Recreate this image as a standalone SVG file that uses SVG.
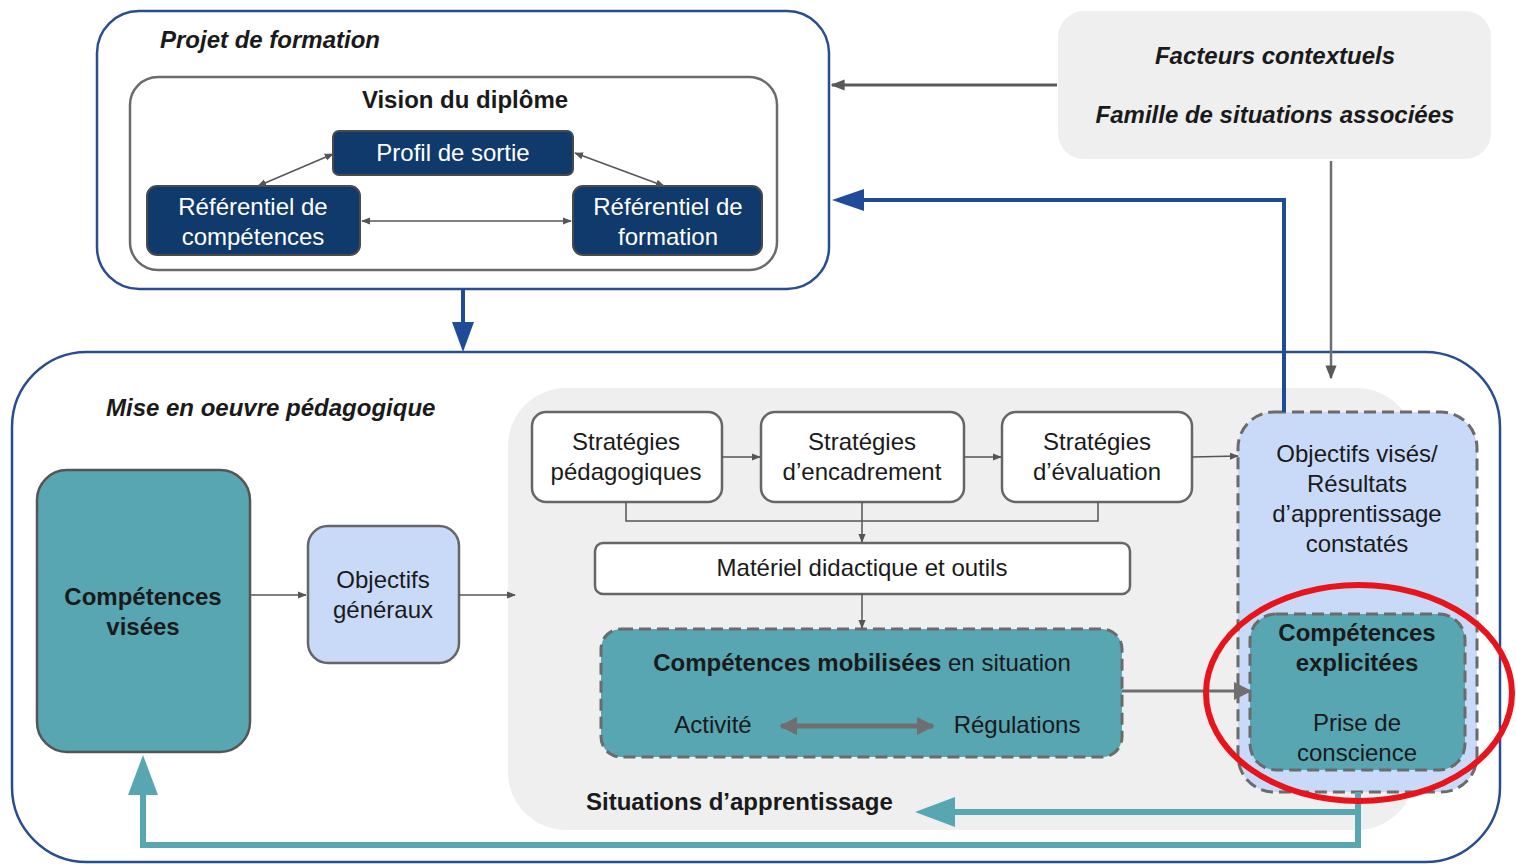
<svg xmlns="http://www.w3.org/2000/svg" width="1516" height="864" viewBox="0 0 1516 864">
<style>
text{font-family:"Liberation Sans",Arial,sans-serif;font-size:24px;fill:#1a1a1a}
.b{font-weight:bold}
.bi{font-weight:bold;font-style:italic}
.c{text-anchor:middle}
.w{fill:#ffffff}
.navy{fill:#103a6b;stroke:#4a4a4a;stroke-width:2}
.wbox{fill:#ffffff;stroke:#666666;stroke-width:2.5}
.teal{fill:#57a6b2}
.dash{stroke:#6b6b6b;stroke-width:3;stroke-dasharray:12 6}
.thin{stroke:#555555;stroke-width:1.5;fill:none}
</style>
<defs>
<marker id="sa" viewBox="0 0 10 10" refX="9" refY="5" markerWidth="9" markerHeight="9" markerUnits="userSpaceOnUse" orient="auto-start-reverse"><path d="M0,1 L10,5 L0,9 z" fill="#555555"/></marker>
<marker id="ga" viewBox="0 0 10 10" refX="9" refY="5" markerWidth="14" markerHeight="14" markerUnits="userSpaceOnUse" orient="auto-start-reverse"><path d="M0,1 L10,5 L0,9 z" fill="#595959"/></marker>
<marker id="gb" viewBox="0 0 10 10" refX="9" refY="5" markerWidth="18" markerHeight="18" markerUnits="userSpaceOnUse" orient="auto-start-reverse"><path d="M0,0 L10,5 L0,10 z" fill="#6f6f6f"/></marker>
</defs>

<g id="projet">
<rect x="97" y="11" width="732" height="278" rx="42" fill="#ffffff" stroke="#2a4d8f" stroke-width="2.5"/>
<text class="bi" x="160" y="48">Projet de formation</text>
</g>
<g id="vision">
<rect x="130" y="77" width="647" height="193" rx="28" fill="#ffffff" stroke="#6b6b6b" stroke-width="2.5"/>
<text class="b c" x="465" y="108">Vision du diplôme</text>
</g>
<g id="profil">
<rect class="navy" x="333" y="131" width="240" height="44" rx="6"/>
<text class="c w" x="453" y="161">Profil de sortie</text>
</g>
<g id="refcomp">
<rect class="navy" x="147" y="186" width="213" height="69" rx="10"/>
<text class="c w" x="253" y="215">Référentiel de</text>
<text class="c w" x="253" y="245">compétences</text>
</g>
<g id="refform">
<rect class="navy" x="573" y="186" width="189" height="69" rx="10"/>
<text class="c w" x="668" y="215">Référentiel de</text>
<text class="c w" x="668" y="245">formation</text>
</g>
<g id="facteurs">
<rect x="1058" y="11" width="433" height="148" rx="26" fill="#efefef"/>
<text class="bi c" x="1275" y="64">Facteurs contextuels</text>
<text class="bi c" x="1275" y="123">Famille de situations associées</text>
</g>

<g id="mise">
<rect x="12" y="352" width="1488" height="510" rx="75" fill="#ffffff" stroke="#2a4d8f" stroke-width="2.5"/>
<text class="bi" x="106" y="416">Mise en oeuvre pédagogique</text>
</g>
<g id="situations">
<rect x="508" y="388" width="907" height="442" rx="58" fill="#efefef"/>
<text class="b" x="586" y="810">Situations d’apprentissage</text>
</g>
<g id="compvisees">
<rect class="teal" x="37" y="470" width="213" height="282" rx="30" stroke="#555555" stroke-width="2.5"/>
<text class="b c" x="143" y="605">Compétences</text>
<text class="b c" x="143" y="635">visées</text>
</g>
<g id="objgen">
<rect x="308" y="526" width="151" height="137" rx="20" fill="#c9daf8" stroke="#666666" stroke-width="2.5"/>
<text class="c" x="383" y="588">Objectifs</text>
<text class="c" x="383" y="618">généraux</text>
</g>
<g id="strat1">
<rect class="wbox" x="532" y="412" width="190" height="90" rx="14"/>
<text class="c" x="626" y="450">Stratégies</text>
<text class="c" x="626" y="480">pédagogiques</text>
</g>
<g id="strat2">
<rect class="wbox" x="761" y="412" width="203" height="90" rx="14"/>
<text class="c" x="862" y="450">Stratégies</text>
<text class="c" x="862" y="480">d’encadrement</text>
</g>
<g id="strat3">
<rect class="wbox" x="1002" y="412" width="190" height="90" rx="14"/>
<text class="c" x="1097" y="450">Stratégies</text>
<text class="c" x="1097" y="480">d’évaluation</text>
</g>
<g id="materiel">
<rect class="wbox" x="595" y="543" width="535" height="51" rx="8"/>
<text class="c" x="862" y="576">Matériel didactique et outils</text>
</g>
<g id="compmob">
<rect class="teal dash" x="601" y="629" width="521" height="128" rx="20"/>
<text class="c" x="862" y="671"><tspan class="b">Compétences mobilisées</tspan> en situation</text>
<text class="c" x="713" y="733">Activité</text>
<text class="c" x="1017" y="733">Régulations</text>
<line x1="781" y1="726" x2="933" y2="726" stroke="#6f6f6f" stroke-width="5" marker-start="url(#gb)" marker-end="url(#gb)"/>
</g>
<g id="objvises">
<rect class="dash" x="1238" y="412" width="239" height="380" rx="36" fill="#c9daf8"/>
<text class="c" x="1357" y="462">Objectifs visés/</text>
<text class="c" x="1357" y="492">Résultats</text>
<text class="c" x="1357" y="522">d’apprentissage</text>
<text class="c" x="1357" y="552">constatés</text>
</g>
<g id="compexpl">
<rect class="teal dash" x="1250" y="614" width="215" height="156" rx="26"/>
<text class="b c" x="1357" y="641">Compétences</text>
<text class="b c" x="1357" y="671">explicitées</text>
<text class="c" x="1357" y="731">Prise de</text>
<text class="c" x="1357" y="761">conscience</text>
</g>

<g id="connectors">
<line class="thin" x1="333" y1="154" x2="258" y2="186" marker-start="url(#sa)" marker-end="url(#sa)"/>
<line class="thin" x1="575" y1="153" x2="664" y2="186" marker-start="url(#sa)" marker-end="url(#sa)"/>
<line class="thin" x1="362" y1="221" x2="571" y2="221" marker-start="url(#sa)" marker-end="url(#sa)"/>
<line x1="1057" y1="85" x2="832" y2="85" stroke="#595959" stroke-width="3" marker-end="url(#ga)"/>
<line x1="1331" y1="161" x2="1331" y2="378" stroke="#6f6f6f" stroke-width="2.5" marker-end="url(#ga)"/>
<polyline points="1284,412 1284,200 862,200" fill="none" stroke="#1f4b99" stroke-width="4"/>
<path d="M832,200 L864,189 L864,211 z" fill="#1f4b99"/>
<line x1="463" y1="289" x2="463" y2="324" stroke="#1f4b99" stroke-width="4"/>
<path d="M463,352 L452,322 L474,322 z" fill="#1f4b99"/>
<line class="thin" x1="250" y1="595" x2="306" y2="595" marker-end="url(#sa)"/>
<line class="thin" x1="459" y1="595" x2="515" y2="595" marker-end="url(#sa)"/>
<line class="thin" x1="722" y1="457" x2="760" y2="457" marker-end="url(#sa)"/>
<line class="thin" x1="964" y1="457" x2="1001" y2="457" marker-end="url(#sa)"/>
<line class="thin" x1="1192" y1="457" x2="1238" y2="456" marker-end="url(#sa)"/>
<polyline class="thin" points="626,502 626,521 1098,521 1098,502"/>
<line class="thin" x1="862" y1="502" x2="862" y2="542" marker-end="url(#sa)"/>
<line class="thin" x1="862" y1="594" x2="862" y2="628" marker-end="url(#sa)"/>
<line x1="1122" y1="691" x2="1250" y2="691" stroke="#6f6f6f" stroke-width="3" marker-end="url(#gb)"/>
<polyline points="1358,792 1358,845 143,845 143,790" fill="none" stroke="#57a6b2" stroke-width="6"/>
<path d="M143,755 L128,795 L158,795 z" fill="#57a6b2"/>
<line x1="1358" y1="812" x2="950" y2="812" stroke="#57a6b2" stroke-width="6"/>
<path d="M915,812 L955,797 L955,827 z" fill="#57a6b2"/>
</g>

<g id="highlight">
<ellipse cx="1359" cy="693" rx="153" ry="108" fill="none" stroke="#e8141b" stroke-width="6"/>
</g>
</svg>
